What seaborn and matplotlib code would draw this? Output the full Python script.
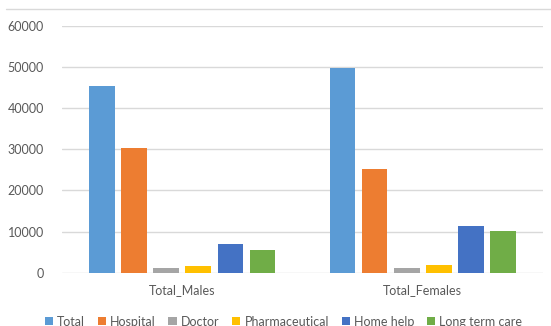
import matplotlib
matplotlib.use("Agg")
import matplotlib.pyplot as plt
import seaborn as sns
import pandas as pd
from matplotlib.lines import Line2D
from matplotlib.patches import Patch

# Cost by care type, per population group
groups = ["Total_Males", "Total_Females"]
care_types = ["Total", "Hospital", "Doctor", "Pharmaceutical", "Home help", "Long term care"]
males = [45400, 30300, 1100, 1700, 7000, 5500]
females = [49800, 25200, 1100, 1900, 11400, 10100]
y_ticks = [0, 10000, 20000, 30000, 40000, 50000, 60000]

colors = ["#5B9BD5", "#ED7D31", "#A5A5A5", "#FFC000", "#4472C4", "#70AD47"]

rows = []
for g, vals in zip(groups, [males, females]):
    for c, v in zip(care_types, vals):
        rows.append({"group": g, "care": c, "value": v})
df = pd.DataFrame(rows)

sns.set_theme(style="white")
plt.rcParams["font.family"] = ["Lato", "DejaVu Sans"]

fig = plt.figure(figsize=(5.51, 3.26), dpi=100)
ax = fig.add_axes([62 / 551, 1 - 272.7 / 326, (543 - 62) / 551, (272.7 - 26) / 326])

sns.barplot(data=df, x="group", y="value", hue="care", order=groups,
            hue_order=care_types, palette=colors, width=0.8, gap=0.2,
            saturation=1, legend=False, ax=ax, edgecolor="none")

ax.set_ylim(0, 60000)
ax.set_yticks(y_ticks)
ax.set_yticklabels([str(t) for t in y_ticks], fontsize=9, color="#595959")
ax.set_xlim(-0.5, 1.5)
ax.tick_params(axis="x", labelsize=9, labelcolor="#595959", length=0, pad=8)
ax.tick_params(axis="y", length=0, pad=13)
ax.set_xlabel("")
ax.set_ylabel("")
ax.grid(axis="y", color="#D9D9D9", linewidth=1)
ax.set_axisbelow(True)
for s in ax.spines.values():
    s.set_visible(False)

handles = [Patch(facecolor=c, edgecolor="none") for c in colors]
fig.legend(handles, care_types, loc="center", bbox_to_anchor=(283.5 / 551, 1 - 321.5 / 326),
           ncol=6, frameon=False, fontsize=9, handlelength=0.65, handleheight=0.65,
           handletextpad=0.35, columnspacing=1.0, labelcolor="#595959")

# thin border line along the top edge
fig.add_artist(Line2D([6 / 551, 1], [1 - 9 / 326, 1 - 9 / 326], color="#D9D9D9",
                      linewidth=1, transform=fig.transFigure))

fig.savefig("out.png", dpi=100)
